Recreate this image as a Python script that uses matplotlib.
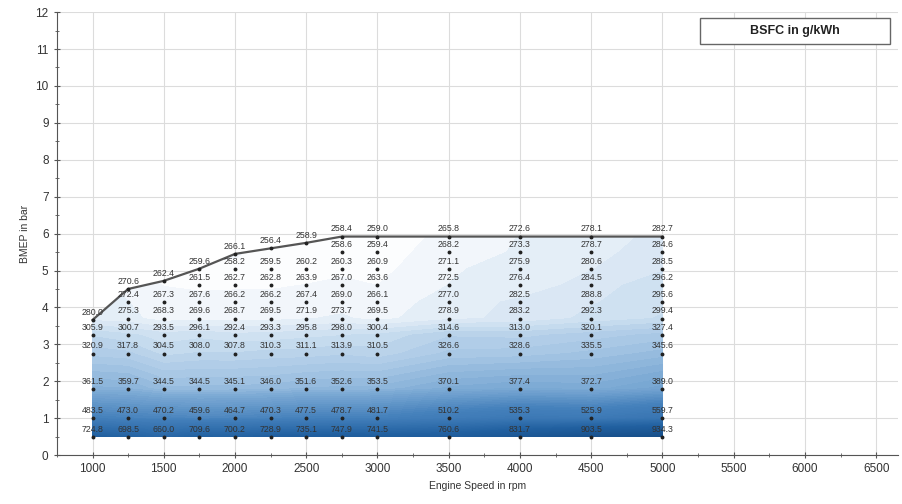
import numpy as np
import matplotlib
matplotlib.use("Agg")
import matplotlib.pyplot as plt
from matplotlib.colors import LinearSegmentedColormap
from matplotlib.ticker import MultipleLocator

plt.rcParams['font.family'] = ['Liberation Sans', 'DejaVu Sans']

# engine speed columns (rpm)
rpm = [1000, 1250, 1500, 1750, 2000, 2250, 2500, 2750, 3000, 3500, 4000, 4500, 5000]

# part load BMEP rows (bar)
bmep_rows = [0.5, 1.0, 1.8, 2.75, 3.25, 3.7, 4.15, 4.6, 5.05, 5.5]

# BSFC in g/kWh per row, None = point above full load
bsfc_r0 = [724.8, 698.5, 660.0, 709.6, 700.2, 728.9, 735.1, 747.9, 741.5, 760.6, 831.7, 903.5, 934.3]
bsfc_r1 = [483.5, 473.0, 470.2, 459.6, 464.7, 470.3, 477.5, 478.7, 481.7, 510.2, 535.3, 525.9, 559.7]
bsfc_r2 = [361.5, 359.7, 344.5, 344.5, 345.1, 346.0, 351.6, 352.6, 353.5, 370.1, 377.4, 372.7, 389.0]
bsfc_r3 = [320.9, 317.8, 304.5, 308.0, 307.8, 310.3, 311.1, 313.9, 310.5, 326.6, 328.6, 335.5, 345.6]
bsfc_r4 = [305.9, 300.7, 293.5, 296.1, 292.4, 293.3, 295.8, 298.0, 300.4, 314.6, 313.0, 320.1, 327.4]
bsfc_r5 = [None, 275.3, 268.3, 269.6, 268.7, 269.5, 271.9, 273.7, 269.5, 278.9, 283.2, 292.3, 299.4]
bsfc_r6 = [None, 272.4, 267.3, 267.6, 266.2, 266.2, 267.4, 269.0, 266.1, 277.0, 282.5, 288.8, 295.6]
bsfc_r7 = [None, None, None, 261.5, 262.7, 262.8, 263.9, 267.0, 263.6, 272.5, 276.4, 284.5, 296.2]
bsfc_r8 = [None, None, None, None, 258.2, 259.5, 260.2, 260.3, 260.9, 271.1, 275.9, 280.6, 288.5]
bsfc_r9 = [None, None, None, None, None, None, None, 258.6, 259.4, 268.2, 273.3, 278.7, 284.6]

# full load curve
full_bmep = [3.66, 4.5, 4.72, 5.05, 5.45, 5.6, 5.75, 5.92, 5.92, 5.92, 5.92, 5.92, 5.92]
full_bsfc = [280.0, 270.6, 262.4, 259.6, 266.1, 256.4, 258.9, 258.4, 259.0, 265.8, 272.6, 278.1, 282.7]

rows = [bsfc_r0, bsfc_r1, bsfc_r2, bsfc_r3, bsfc_r4, bsfc_r5, bsfc_r6, bsfc_r7, bsfc_r8, bsfc_r9]

# build curvilinear grid, padding each column with its full load point
nrow = len(rows) + 1
X = np.zeros((nrow, len(rpm)))
Y = np.zeros((nrow, len(rpm)))
Z = np.zeros((nrow, len(rpm)))
for j, n in enumerate(rpm):
    ys = [bmep_rows[i] for i in range(len(rows)) if rows[i][j] is not None]
    zs = [rows[i][j] for i in range(len(rows)) if rows[i][j] is not None]
    ys.append(full_bmep[j])
    zs.append(full_bsfc[j])
    while len(ys) < nrow:
        ys.append(full_bmep[j])
        zs.append(full_bsfc[j])
    X[:, j] = n
    Y[:, j] = ys
    Z[:, j] = zs

fig = plt.figure(figsize=(9.03, 5.04), dpi=100)
ax = fig.add_axes([0.063, 0.097, 0.931, 0.879])

nodes = [255, 275, 300, 330, 370, 480, 720, 940]
cols = ['#ffffff', '#e6eff8', '#c6dbee', '#a6c6e4', '#7eabd5', '#4480bb', '#2160a0', '#174f8a']
pos = [(v - nodes[0]) / (nodes[-1] - nodes[0]) for v in nodes]
cmap = LinearSegmentedColormap.from_list('bsfc', list(zip(pos, cols)))
ax.contourf(X, Y, Z, levels=np.linspace(255, 940, 80), cmap=cmap, vmin=255, vmax=940, zorder=1)

# full load line
ax.plot(rpm, full_bmep, color='#555555', lw=1.6, zorder=3)

# points and labels
for i, r in enumerate(rows):
    for j, v in enumerate(r):
        if v is None:
            continue
        ax.plot(rpm[j], bmep_rows[i], 'o', ms=1.8, color='#222222', zorder=4)
        ax.annotate(f"{v:.1f}", (rpm[j], bmep_rows[i]), xytext=(0, 5.5),
                    textcoords='offset points', ha='center', va='center',
                    fontsize=6.3, color='#333333', zorder=5)
for j, v in enumerate(full_bsfc):
    ax.plot(rpm[j], full_bmep[j], 'o', ms=1.8, color='#222222', zorder=4)
    ax.annotate(f"{v:.1f}", (rpm[j], full_bmep[j]), xytext=(0, 5.5),
                textcoords='offset points', ha='center', va='center',
                fontsize=6.3, color='#333333', zorder=5)

ax.set_xlim(750, 6650)
ax.set_ylim(0, 12)
ax.xaxis.set_major_locator(MultipleLocator(500))
ax.xaxis.set_minor_locator(MultipleLocator(250))
ax.yaxis.set_major_locator(MultipleLocator(1))
ax.yaxis.set_minor_locator(MultipleLocator(0.5))
ax.set_xticks(range(1000, 6501, 500))
ax.grid(True, which='major', color='#dcdcdc', lw=0.8, zorder=0)
ax.set_axisbelow(True)
ax.tick_params(which='both', direction='inout', colors='#555555', labelcolor='#333333', labelsize=8.5)
ax.tick_params(which='major', length=5)
ax.tick_params(which='minor', length=3)
for s in ['top', 'right']:
    ax.spines[s].set_visible(False)
for s in ['left', 'bottom']:
    ax.spines[s].set_color('#555555')

ax.set_xlabel("Engine Speed in rpm", fontsize=7.5, color='#333333')
ax.set_ylabel("BMEP in bar", fontsize=7.5, color='#333333')

# legend box
fig.patches.append(plt.Rectangle((0.775, 0.913), 0.211, 0.052, transform=fig.transFigure,
                                 facecolor='white', edgecolor='#666666', lw=1.0, zorder=10))
fig.text(0.880, 0.939, "BSFC in g/kWh", ha='center', va='center', fontsize=9,
         fontweight='bold', color='#222222', zorder=11)

fig.savefig("out.png", dpi=100)
